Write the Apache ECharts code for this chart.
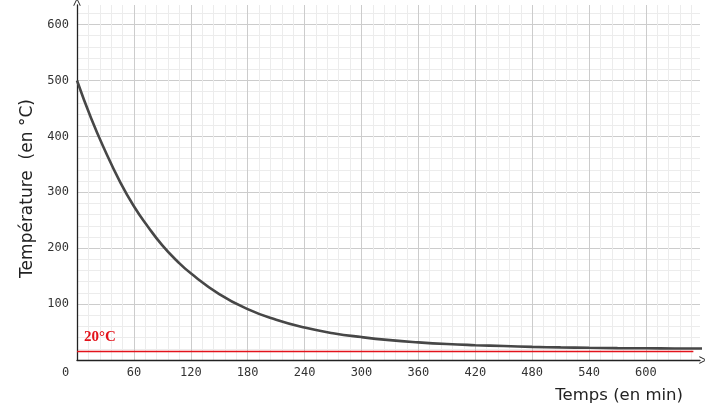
<!DOCTYPE html>
<html><head><meta charset="utf-8">
<script src="https://cdn.jsdelivr.net/npm/echarts@6/dist/echarts.min.js"></script>
<style>html,body{margin:0;padding:0;background:#fff}#c{width:705px;height:411px}</style>
</head><body><div id="c"></div>
<script>
// Temps (min) and température (°C)
const times = [0,15,30,45,60,75,90,105,120,150,180,210,240,270,300,330,360,390,420,450,480,510,540,570,600,630,660];
const temps = [500,432,373,320,275,238,205,178,155,118,91,72,58,48,41,35.5,31.5,28.5,26.5,25,23.5,22.5,21.8,21.3,21,20.7,20.5];
const refLineValue = 16;
const refLineEnd = 650;
const refLabel = '20°C';
const xTickInterval = 60;
const yTickInterval = 100;

const curve = times.map((t, i) => [t, temps[i]]);
const chevron = 'path://M0,10 L5,0 L10,10 L9,10.8 L5,2.6 L1,10.8 Z';
const chart = echarts.init(document.getElementById('c'));
chart.setOption({
  animation: false,
  grid: {left: 77, right: 5, top: 5, bottom: 51, containLabel: false},
  xAxis: {
    type: 'value', min: 0, max: 657, interval: xTickInterval,
    name: 'Temps (en min)', nameLocation: 'end', nameGap: -17,
    nameTextStyle: {fontFamily: 'DejaVu Sans', fontSize: 16.5, color: '#222', align: 'right', verticalAlign: 'top', padding: [27, 0, 0, 0]},
    axisLine: {show: true, onZero: false, symbol: ['none', chevron], symbolSize: [9, 8], symbolOffset: [0, 3], lineStyle: {color: '#222', width: 1.3}},
    axisTick: {show: false},
    axisLabel: {showMaxLabel: false, margin: 7, fontFamily: 'DejaVu Sans Mono', fontSize: 12, color: '#333',
      formatter: v => v === 0 ? '{z|0}' : String(v),
      rich: {z: {fontFamily: 'DejaVu Sans Mono', fontSize: 12, color: '#333', padding: [0, 23, 0, 0]}}},
    splitLine: {show: true, showMaxLine: false, lineStyle: {color: '#cccccc', width: 1}},
    minorTick: {show: false, splitNumber: 5},
    minorSplitLine: {show: true, lineStyle: {color: '#ececec', width: 1}}
  },
  yAxis: {
    type: 'value', min: 0, max: 635, interval: yTickInterval,
    name: 'Température  (en °C)', nameLocation: 'middle', nameGap: 41,
    nameTextStyle: {fontFamily: 'DejaVu Sans', fontSize: 17, color: '#222', padding: [0, 12, 0, 0]},
    axisLine: {show: true, onZero: false, symbol: ['none', chevron], symbolSize: [9, 8], symbolOffset: [0, 3], lineStyle: {color: '#222', width: 1.3}},
    axisTick: {show: false},
    axisLabel: {showMinLabel: false, showMaxLabel: false, margin: 8, fontFamily: 'DejaVu Sans Mono', fontSize: 12, color: '#333'},
    splitLine: {show: true, showMaxLine: false, lineStyle: {color: '#cccccc', width: 1}},
    minorTick: {show: false, splitNumber: 5},
    minorSplitLine: {show: true, lineStyle: {color: '#ececec', width: 1}}
  },
  series: [{
    type: 'line', data: curve, smooth: 0.5, showSymbol: false, clip: true,
    lineStyle: {color: '#474747', width: 2.6},
    markLine: {
      silent: true, symbol: ['none', 'none'],
      lineStyle: {color: '#e3131b', width: 1.3, type: 'solid'},
      label: {show: true, position: 'insideStartTop', formatter: refLabel, distance: [7, 6],
        fontFamily: 'Liberation Serif', fontWeight: 'bold', fontSize: 15, color: '#e3131b'},
      data: [[{coord: [0, refLineValue]}, {coord: [refLineEnd, refLineValue]}]]
    }
  }]
});
</script></body></html>
